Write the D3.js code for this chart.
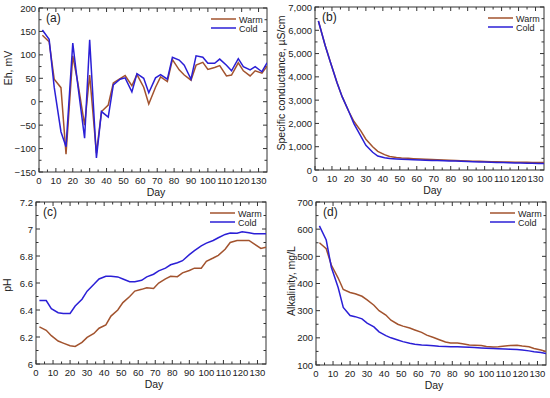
<!DOCTYPE html>
<html>
<head>
<meta charset="utf-8">
<script src="https://cdn.jsdelivr.net/npm/d3@7"></script>
<style>
  body { margin: 0; background: #fff; }
  svg { display: block; }
  text { font-family: "Liberation Sans", Arial, sans-serif; fill: #222; }
</style>
</head>
<body>
<svg id="chart" width="550" height="398"></svg>
<script>
// sampling days (same for all four panels)
var days = [2, 6, 9, 13, 16, 20, 23, 27, 30, 34, 37, 41, 44, 48, 51, 55, 58, 62, 65, 69,
            72, 76, 79, 83, 86, 90, 93, 97, 100, 104, 107, 111, 114, 118, 121, 125, 128, 132, 135];

// (a) Eh, mV
var ehWarm = [142, 128, 48, 30, -112, 98, 40, -50, 57, -110, -21, -7, 40, 49, 56, 34, 58, 31, -5, 31,
              53, 43, 90, 68, 57, 46, 78, 84, 69, 73, 77, 55, 57, 83, 66, 55, 66, 61, 76];
var ehCold = [153, 133, 31, -64, -96, 125, 35, -78, 132, -120, -21, -33, 36, 48, 51, 21, 60, 50, 19, 51,
              58, 48, 95, 89, 78, 48, 98, 95, 82, 82, 91, 78, 66, 92, 75, 68, 75, 64, 83];

// (b) Specific conductance, uS/cm
var scWarm = [6400, 5350, 4650, 3750, 3150, 2500, 2080, 1680, 1320, 1000, 800, 660, 580, 540, 520, 500, 485, 470, 458, 448,
              440, 430, 420, 410, 400, 390, 380, 372, 365, 358, 352, 346, 340, 336, 332, 328, 325, 322, 320];
var scCold = [6400, 5350, 4650, 3750, 3150, 2500, 1980, 1450, 1060, 760, 600, 530, 490, 470, 458, 447, 437, 428, 420, 412,
              405, 398, 390, 382, 375, 365, 356, 347, 340, 332, 325, 318, 312, 305, 300, 294, 288, 282, 276];

// (c) pH
var phWarm = [6.275, 6.25, 6.21, 6.17, 6.155, 6.135, 6.13, 6.16, 6.197, 6.226, 6.265, 6.29, 6.355, 6.40, 6.455, 6.50, 6.54, 6.553, 6.565, 6.56,
              6.60, 6.63, 6.65, 6.647, 6.675, 6.693, 6.71, 6.71, 6.76, 6.785, 6.805, 6.85, 6.90, 6.915, 6.915, 6.915, 6.89, 6.856, 6.865];
var phCold = [6.47, 6.47, 6.41, 6.38, 6.375, 6.375, 6.43, 6.48, 6.54, 6.59, 6.63, 6.65, 6.65, 6.645, 6.63, 6.61, 6.61, 6.62, 6.645, 6.665,
              6.69, 6.71, 6.735, 6.75, 6.765, 6.81, 6.84, 6.875, 6.895, 6.915, 6.935, 6.96, 6.97, 6.968, 6.98, 6.972, 6.965, 6.964, 6.964];

// (d) Alkalinity, mg/L
var alkWarm = [550, 528, 468, 420, 378, 367, 362, 353, 340, 320, 300, 284, 265, 250, 243, 236, 229, 220, 210, 201,
               194, 185, 181, 181, 178, 174, 173, 172, 168, 166, 167, 170, 172, 173, 170, 167, 161, 155, 150];
var alkCold = [612, 560, 460, 385, 312, 282, 278, 270, 254, 240, 222, 208, 200, 192, 186, 180, 176, 174, 173, 171,
               169, 168, 167, 167, 166, 165, 164, 163, 162, 161, 160, 159, 158, 157, 155, 152, 149, 146, 142];

// tick values
var dayTicks = d3.range(0, 131, 10);
var ehTicks = d3.range(-150, 201, 50);
var scTicks = d3.range(0, 7001, 1000);
var phTicks = [6, 6.2, 6.4, 6.6, 6.8, 7, 7.2];
var alkTicks = d3.range(100, 701, 100);

var seriesNames = ["Warm", "Cold"];
var colors = { Warm: "#a2532e", Cold: "#2b1fd6" };

var svg = d3.select("#chart");

var panels = [
  { tag: "(a)", left: 39, right: 267, top: 8, bottom: 172, ydom: [-150, 200], ticks: ehTicks, minor: 25,
    fmt: function (v) { return v < 0 ? "\u2212" + Math.abs(v) : String(v); },
    ylabel: "Eh, mV", ylx: 12, yly: 68, warm: ehWarm, cold: ehCold },
  { tag: "(b)", left: 315, right: 544, top: 7, bottom: 170, ydom: [0, 7000], ticks: scTicks, minor: 500,
    fmt: d3.format(","), ylabel: "Specific conductance, \u00b5S/cm", ylx: 285, yly: 83, warm: scWarm, cold: scCold },
  { tag: "(c)", left: 36, right: 266, top: 202, bottom: 364, ydom: [6, 7.2], ticks: phTicks, minor: 0.1,
    fmt: function (v) { return String(+v.toFixed(1)); }, ylabel: "pH", ylx: 11, yly: 285, warm: phWarm, cold: phCold },
  { tag: "(d)", left: 316, right: 546, top: 202, bottom: 365, ydom: [100, 700], ticks: alkTicks, minor: 50,
    fmt: String, ylabel: "Alkalinity, mg/L", ylx: 295, yly: 281, warm: alkWarm, cold: alkCold }
];

panels.forEach(function (p) {
  var x = d3.scaleLinear().domain([0, 135]).range([p.left, p.right]);
  var y = d3.scaleLinear().domain(p.ydom).range([p.bottom, p.top]);
  var g = svg.append("g");
  var w = p.right - p.left, h = p.bottom - p.top;

  // frame
  g.append("rect")
    .attr("x", p.left).attr("y", p.top)
    .attr("width", w).attr("height", h)
    .attr("fill", "none").attr("stroke", "#333").attr("stroke-width", 1);

  // x ticks (major every 10, minor every 5), inward, on bottom and top
  var xMinor = d3.range(5, 135, 10);
  [{ vals: dayTicks, len: 4 }, { vals: xMinor, len: 2.5 }].forEach(function (t) {
    g.selectAll(null).data(t.vals).enter().append("line")
      .attr("x1", function (d) { return x(d); }).attr("x2", function (d) { return x(d); })
      .attr("y1", p.bottom).attr("y2", p.bottom - t.len)
      .attr("stroke", "#333");
    g.selectAll(null).data(t.vals).enter().append("line")
      .attr("x1", function (d) { return x(d); }).attr("x2", function (d) { return x(d); })
      .attr("y1", p.top).attr("y2", p.top + t.len)
      .attr("stroke", "#333");
  });

  // y ticks (major + half-step minor), inward, on left and right
  var yMinor = d3.range(p.ydom[0] + p.minor, p.ydom[1], p.minor * 2);
  [{ vals: p.ticks, len: 4 }, { vals: yMinor, len: 2.5 }].forEach(function (t) {
    g.selectAll(null).data(t.vals).enter().append("line")
      .attr("y1", function (d) { return y(d); }).attr("y2", function (d) { return y(d); })
      .attr("x1", p.left).attr("x2", p.left + t.len)
      .attr("stroke", "#333");
    g.selectAll(null).data(t.vals).enter().append("line")
      .attr("y1", function (d) { return y(d); }).attr("y2", function (d) { return y(d); })
      .attr("x1", p.right).attr("x2", p.right - t.len)
      .attr("stroke", "#333");
  });

  // tick labels
  g.selectAll(null).data(dayTicks).enter().append("text")
    .attr("x", function (d) { return x(d); })
    .attr("y", p.bottom + 12)
    .attr("text-anchor", "middle")
    .attr("font-size", "9.5px")
    .text(function (d) { return d; });

  g.selectAll(null).data(p.ticks).enter().append("text")
    .attr("x", p.left - 3)
    .attr("y", function (d) { return y(d) + 3.5; })
    .attr("text-anchor", "end")
    .attr("font-size", "9.5px")
    .text(p.fmt);

  // axis titles
  g.append("text")
    .attr("x", (p.left + p.right) / 2 + 3)
    .attr("y", p.bottom + 24)
    .attr("text-anchor", "middle")
    .attr("font-size", "10.5px")
    .text("Day");

  g.append("text")
    .attr("transform", "translate(" + p.ylx + "," + p.yly + ") rotate(-90)")
    .attr("text-anchor", "middle")
    .attr("font-size", "10.5px")
    .text(p.ylabel);

  // panel tag
  g.append("text")
    .attr("x", p.left + 7)
    .attr("y", p.top + 14)
    .attr("font-size", "12px")
    .text(p.tag);

  // lines
  var line = d3.line()
    .x(function (d, i) { return x(days[i]); })
    .y(function (d) { return y(d); });

  var clipId = "clip" + p.tag.replace(/\W/g, "");
  g.append("clipPath").attr("id", clipId)
    .append("rect").attr("x", p.left).attr("y", p.top).attr("width", w).attr("height", h);

  [["Warm", p.warm], ["Cold", p.cold]].forEach(function (s) {
    g.append("path")
      .datum(s[1])
      .attr("clip-path", "url(#" + clipId + ")")
      .attr("fill", "none")
      .attr("stroke", colors[s[0]])
      .attr("stroke-width", 1.5)
      .attr("d", line);
  });

  // legend
  seriesNames.forEach(function (name, i) {
    var ly = p.top + 11 + i * 9;
    g.append("line")
      .attr("x1", p.right - 56).attr("x2", p.right - 31)
      .attr("y1", ly).attr("y2", ly)
      .attr("stroke", colors[name]).attr("stroke-width", 1.5);
    g.append("text")
      .attr("x", p.right - 28)
      .attr("y", ly + 3.5)
      .attr("font-size", "9px")
      .text(name);
  });
});
</script>
</body>
</html>
